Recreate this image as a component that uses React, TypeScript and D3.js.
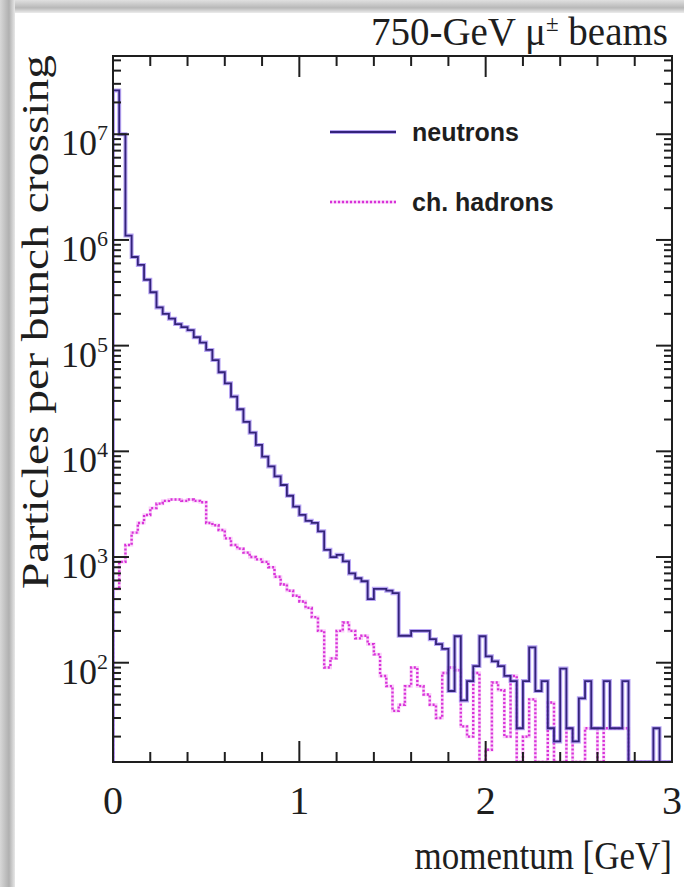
import React from "react";
import * as d3 from "d3";

const W = 684, H = 887;
const xMin = 0, xMax = 3;
const yMin = 11.5, yMax = 5.5e7;
const nBins = 90;

const neutrons = [
  2.6e7, 1.0e7, 1.1e6, 6.9e5, 5.8e5, 4.2e5, 3.2e5, 2.3e5, 2.0e5, 1.8e5,
  1.6e5, 1.5e5, 1.4e5, 1.2e5, 1.07e5, 9.1e4, 7.3e4, 5.6e4, 4.4e4, 3.3e4,
  2.5e4, 1.9e4, 1.5e4, 1.15e4, 8.9e3, 7.2e3, 5.8e3, 4.8e3, 3.8e3, 3.0e3,
  2.5e3, 2.2e3, 2.1e3, 1.75e3, 1.17e3, 1.0e3, 1.05e3, 910, 700, 630,
  590, 400, 500, 500, 480, 455, 180, 180, 200, 200,
  200, 167, 150, 135, 54, 178, 44, 67, 93, 178,
  115, 103, 93, 75, 67, 24, 67, 140, 54, 67,
  24, 18, 88, 24, 18, 46, 67, 24, 24, 67,
  24, 24, 67, 0, 0, 0, 0, 24, 0, 0,
];

const chHadrons = [
  500, 900, 1300, 1700, 2100, 2500, 2900, 3200, 3400, 3500,
  3500, 3400, 3500, 3400, 3300, 2100, 2000, 1800, 1500, 1300,
  1200, 1100, 1000, 950, 900, 800, 650, 550, 480, 430,
  380, 330, 270, 200, 90, 110, 200, 240, 200, 170,
  180, 150, 120, 75, 60, 35, 40, 60, 90, 60,
  50, 40, 30, 80, 90, 85, 25, 20, 80, 0,
  15, 65, 55, 20, 75, 0, 20, 45, 0, 0,
  42, 0, 0, 24, 0, 0, 24, 24, 0, 24,
  24, 24, 24, 0, 0, 0, 0, 0, 0, 0,
];

const yTickExps = [2, 3, 4, 5, 6, 7];
const xTickLabels = ["0", "1", "2", "3"];
const titleMain = "750-GeV \u03bc";
const titleSup = "\u00b1";
const titleEnd = " beams";
const xLabel = "momentum [GeV]";
const yLabel = "Particles per bunch crossing";
const legendNames = ["neutrons", "ch. hadrons"];

const L = 113, R = 672, T = 56, B = 762;

export default function App() {
  const x = d3.scaleLinear().domain([xMin, xMax]).range([L, R]);
  const y = d3.scaleLog().domain([yMin, yMax]).range([B, T]);
  const bw = (xMax - xMin) / nBins;

  const stepPath = (vals: number[]) => {
    const yy = (v: number) => (v > 0 ? Math.max(T, Math.min(B, y(v))) : B);
    let p = `M${x(0)},${B}`;
    vals.forEach((v, i) => {
      p += `L${x(i * bw)},${yy(v)}L${x((i + 1) * bw)},${yy(v)}`;
    });
    p += `L${x(nBins * bw)},${B}`;
    return p;
  };

  const xMinor = d3.range(0, 3.0001, 0.2);
  const yMinor: number[] = [];
  for (let e = 1; e <= 7; e++) {
    for (let m = 1; m <= 9; m++) {
      const v = m * Math.pow(10, e);
      if (v >= yMin && v <= yMax) yMinor.push(v);
    }
  }

  const serif = "'Liberation Serif', 'DejaVu Serif', serif";
  const sans = "'Liberation Sans', Arial, sans-serif";
  const ink = "#1e1e1e";
  const nHalo = "#9a7ff0";
  const nCol = "#33237a";
  const hHalo = "#f4a6f4";
  const hCol = "#d832d8";

  const nPath = stepPath(neutrons);
  const hPath = stepPath(chHadrons);

  return (
    <svg width={W} height={H} style={{ display: "block", position: "absolute", left: 0, top: 0 }}>
      <defs>
        <linearGradient id="gl" x1="0" x2="1" y1="0" y2="0">
          <stop offset="0" stopColor="#d8d8d8" />
          <stop offset="0.6" stopColor="#b0b0b0" />
          <stop offset="1" stopColor="#e8e8e8" />
        </linearGradient>
        <linearGradient id="gt" x1="0" x2="0" y1="0" y2="1">
          <stop offset="0" stopColor="#e0e0e0" />
          <stop offset="0.6" stopColor="#b8b8b8" />
          <stop offset="1" stopColor="#ececec" />
        </linearGradient>
        <clipPath id="plot">
          <rect x={L} y={T} width={R - L} height={B - T} />
        </clipPath>
      </defs>
      <rect x={0} y={0} width={W} height={H} fill="#ffffff" />
      <rect x={0} y={0} width={W} height={13} fill="url(#gt)" />
      <rect x={0} y={0} width={15} height={H} fill="url(#gl)" />

      <g clipPath="url(#plot)">
        <path d={hPath} fill="none" stroke={hHalo} strokeWidth={3.2} opacity={0.55} />
        <path d={hPath} fill="none" stroke={hCol} strokeWidth={2.4} strokeDasharray="2,2" />
        <path d={nPath} fill="none" stroke={nHalo} strokeWidth={4} opacity={0.7} />
        <path d={nPath} fill="none" stroke={nCol} strokeWidth={1.8} />
      </g>

      <rect x={L} y={T} width={R - L} height={B - T} fill="none" stroke={ink} strokeWidth={2} />

      {xMinor.map((v, i) => {
        const major = Math.abs(v - Math.round(v)) < 1e-6;
        const len = major ? 21 : 10;
        return (
          <g key={"xt" + i} stroke={ink} strokeWidth={2}>
            <line x1={x(v)} x2={x(v)} y1={B} y2={B - len} />
            <line x1={x(v)} x2={x(v)} y1={T} y2={T + len} />
          </g>
        );
      })}
      {yMinor.map((v, i) => {
        const major = Math.abs(Math.log10(v) - Math.round(Math.log10(v))) < 1e-6;
        const len = major ? 16 : 8;
        return (
          <g key={"yt" + i} stroke={ink} strokeWidth={2}>
            <line x1={L} x2={L + len} y1={y(v)} y2={y(v)} />
            <line x1={R} x2={R - len} y1={y(v)} y2={y(v)} />
          </g>
        );
      })}

      {yTickExps.map((e) => (
        <text key={"yl" + e} x={108} y={y(Math.pow(10, e)) + 21} textAnchor="end" fontFamily={serif} fontSize={36} fill={ink}>
          10
          <tspan dy={-15} fontSize={22}>{e}</tspan>
        </text>
      ))}

      {xTickLabels.map((t, i) => (
        <text key={"xl" + i} x={x(+t)} y={814} textAnchor="middle" fontFamily={serif} fontSize={40} fill={ink}>
          {t}
        </text>
      ))}

      <text x={672} y={869} textAnchor="end" fontFamily={serif} fontSize={35} fill={ink} transform="translate(0,869) scale(1,1.15) translate(0,-869)">{xLabel}</text>
      <text transform="translate(48,322) rotate(-90) scale(1.25,1)" textAnchor="middle" fontFamily={serif} fontSize={38} fill={ink}>{yLabel}</text>
      <text x={668} y={45} textAnchor="end" fontFamily={serif} fontSize={39} fill={ink}>
        {titleMain}
        <tspan dy={-14} fontSize={23}>{titleSup}</tspan>
        <tspan dy={14}>{titleEnd}</tspan>
      </text>

      <line x1={330} x2={396} y1={132} y2={132} stroke={nHalo} strokeWidth={4} opacity={0.7} />
      <line x1={330} x2={396} y1={132} y2={132} stroke={nCol} strokeWidth={1.8} />
      <text x={412} y={141} fontFamily={sans} fontWeight="bold" fontSize={25} fill={ink}>{legendNames[0]}</text>
      <line x1={330} x2={396} y1={202} y2={202} stroke={hHalo} strokeWidth={3.2} opacity={0.55} />
      <line x1={330} x2={396} y1={202} y2={202} stroke={hCol} strokeWidth={2.4} strokeDasharray="2,2" />
      <text x={412} y={211} fontFamily={sans} fontWeight="bold" fontSize={25} fill={ink}>{legendNames[1]}</text>
    </svg>
  );
}
